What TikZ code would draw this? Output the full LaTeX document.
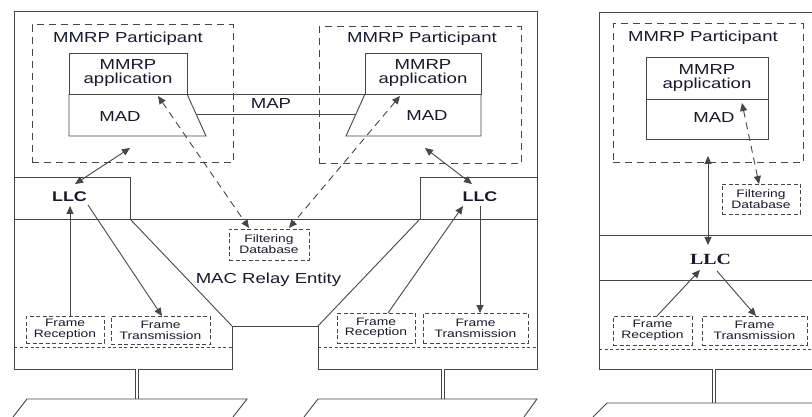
\documentclass[tikz,border=0pt]{standalone}
\usepackage{fontspec}
\setmainfont{Liberation Sans}[FakeStretch=1.28]
\newfontfamily\llcserif{Liberation Serif}[FakeStretch=1.28]
\usetikzlibrary{arrows.meta}
\definecolor{lc}{RGB}{70,70,70}
\definecolor{tc}{RGB}{25,25,45}
\begin{document}
\begin{tikzpicture}[x=1pt,y=-1pt,
 ln/.style={draw=lc,line width=0.9pt},
 pbox/.style={draw=lc,line width=1pt,dash pattern=on 7pt off 5pt},
 sbox/.style={draw=lc,line width=0.8pt,dash pattern=on 4pt off 2.5pt,align=center,inner sep=0pt,text=tc,font=\fontsize{10.8}{10.8}\selectfont},
 dline/.style={draw=lc,line width=0.8pt,dash pattern=on 3pt off 2.5pt},
 abox/.style={draw=lc,line width=0.9pt,align=center,inner sep=0pt,text=tc,font=\fontsize{14.5}{14}\selectfont},
 big/.style={text=tc,font=\fontsize{14.5}{14}\selectfont,inner sep=0pt,anchor=base},
 llcs/.style={text=tc,font=\fontsize{14}{14}\selectfont\bfseries,inner sep=0pt,anchor=base},
 tip/.style={},
 arr/.style={ln,-{Triangle[length=8pt,width=7pt]}},
 darr/.style={ln,{Triangle[length=8pt,width=7pt]}-{Triangle[length=8pt,width=7pt]}},
 dsarr/.style={draw=lc,line width=0.9pt,dash pattern=on 7pt off 5pt,{Triangle[length=8pt,width=7pt]}-{Triangle[length=8pt,width=7pt]}},
 dbl/.style={draw=lc,line width=0.8pt,double,double distance=2.2pt},
]
\useasboundingbox[fill=white] (0,0) rectangle (812,417);

% ================= Bridge 1 (two ports) =================
% outer frame
\draw[ln] (14,11) -- (537,11) -- (537,369) -- (318,369) -- (318,326) -- (232,326) -- (232,369) -- (14,369) -- cycle;
% LLC compartments and relay outline
\draw[ln] (14,177) -- (130,177) -- (130,219);
\draw[ln] (537,177) -- (420,177) -- (420,219);
\draw[ln] (14,219) -- (537,219);
\draw[ln] (130,219) -- (232,326);
\draw[ln] (420,219) -- (318,326);
\draw[dline] (14,347) -- (232,347);
\draw[dline] (318,347) -- (537,347);

% participants
\node[pbox,minimum width=201,minimum height=138] (lpart) at (132.5,94) {};
\node[big] (lpartlbl) at (128,43) {MMRP Participant};
\node[pbox,minimum width=202,minimum height=137] (rpart) at (420,95.5) {};
\node[big] (rpartlbl) at (422,43) {MMRP Participant};

% applications
\node[abox,minimum width=118,minimum height=41] (lapp) at (128,73.5) {MMRP\\application};
\node[abox,minimum width=116,minimum height=41] (rapp) at (423,73.5) {MMRP\\application};
% MAD trapezoids
\draw[ln] (69,94) -- (69,136) -- (206,136) -- (187,94);
\draw[ln] (481,94) -- (481,136) -- (346,136) -- (365,94);
\node[big] (lmad) at (120,122) {MAD};
\node[big] (rmad) at (427,121) {MAD};
% MAP
\draw[ln] (187,94) -- (365,94);
\draw[ln] (196,114) -- (356,114);
\node[big] (map) at (271,109) {MAP};

% LLC labels
\node[llcs] (lllc) at (69.5,201) {LLC};
\node[llcs] (rllc) at (480,201) {LLC};

% filtering database
\node[sbox,minimum width=80,minimum height=31] (lfd) at (269,244.5) {Filtering\\Database};
\node[big] (mac) at (268.5,283) {MAC Relay Entity};

% frame boxes
\node[sbox,minimum width=78,minimum height=27] (lfr) at (65,329.5) {Frame\\Reception};
\node[sbox,minimum width=99,minimum height=28] (lft) at (160.5,330) {Frame\\Transmission};
\node[sbox,minimum width=78,minimum height=30] (rfr) at (376,328) {Frame\\Reception};
\node[sbox,minimum width=105,minimum height=30] (rft) at (475.5,328) {Frame\\Transmission};

% arrow end points
\coordinate (lpA) at (130,148);
\coordinate (llA) at (75,184);
\coordinate (rpA) at (425,148);
\coordinate (rlA) at (472,184);
\coordinate (lappD) at (158,96);
\coordinate (lfdD) at (249,228);
\coordinate (rappD) at (400,96);
\coordinate (rfdD) at (289,228);
\coordinate (lfrU) at (70,316);
\coordinate (lllcB) at (70,206);
\coordinate (lllcT) at (88,205);
\coordinate (lftU) at (162,316);
\coordinate (rfrU) at (388,313);
\coordinate (rllcB) at (463,206);
\coordinate (rllcT) at (480,206);
\coordinate (rftU) at (480,313);

\draw[darr] (lpA) -- (llA);
\draw[darr] (rpA) -- (rlA);
\draw[dsarr] (lappD) -- (lfdD);
\draw[dsarr] (rappD) -- (rfdD);
\draw[arr] (lfrU) -- (lllcB);
\draw[arr] (lllcT) -- (lftU);
\draw[arr] (rfrU) -- (rllcB);
\draw[arr] (rllcT) -- (rftU);

% attachments to LANs
\coordinate (lport) at (137,369);
\coordinate (llan) at (137,399);
\coordinate (rport) at (443,369);
\coordinate (rlan) at (443,399);
\draw[dbl] (lport) -- (llan);
\draw[dbl] (rport) -- (rlan);
\draw[ln] (13,417) -- (27,399) -- (247,399) -- (233,417);
\draw[ln] (304,417) -- (318,399) -- (537,399) -- (524,417);

% ================= Bridge 2 (end station) =================
\draw[ln] (812,12) -- (599,12) -- (599,369) -- (812,369);
\draw[ln] (599,235) -- (812,235);
\draw[ln] (599,280) -- (812,280);
\draw[dline] (599,349) -- (812,349);

\node[pbox,minimum width=190,minimum height=139] (tpart) at (708,93.5) {};
\node[big] (tpartlbl) at (703,41.5) {MMRP Participant};
\node[abox,minimum width=122,minimum height=42] (tapp) at (707,78) {MMRP\\application};
\node[abox,minimum width=122,minimum height=40] (tmadbox) at (707,119) {};
\node[big] (tmad) at (714,122.5) {MAD};

\node[sbox,minimum width=78,minimum height=30] (tfd) at (761,199) {Filtering\\Database};
\node[text=tc,font=\fontsize{15.5}{15}\selectfont\llcserif\bfseries,inner sep=0pt,anchor=base] (tllc) at (710.5,264) {LLC};

\node[sbox,minimum width=79,minimum height=29] (tfr) at (652.5,330.5) {Frame\\Reception};
\node[sbox,minimum width=105,minimum height=29] (tft) at (754.5,330.5) {Frame\\Transmission};

\coordinate (tpA) at (708,156);
\coordinate (tlA) at (708,245);
\coordinate (tappD) at (742,103);
\coordinate (tfdD) at (759,184);
\coordinate (tfrU) at (657,316);
\coordinate (tllcB) at (700,270);
\coordinate (tllcT) at (717,271);
\coordinate (tftU) at (756,316);

\draw[darr] (tpA) -- (tlA);
\draw[dsarr] (tappD) -- (tfdD);
\draw[arr] (tfrU) -- (tllcB);
\draw[arr] (tllcT) -- (tftU);

\coordinate (tport) at (714,369);
\coordinate (tlan) at (714,403);
\draw[dbl] (tport) -- (tlan);
\draw[ln] (593,417) -- (607,403) -- (812,403);
\end{tikzpicture}
\end{document}
